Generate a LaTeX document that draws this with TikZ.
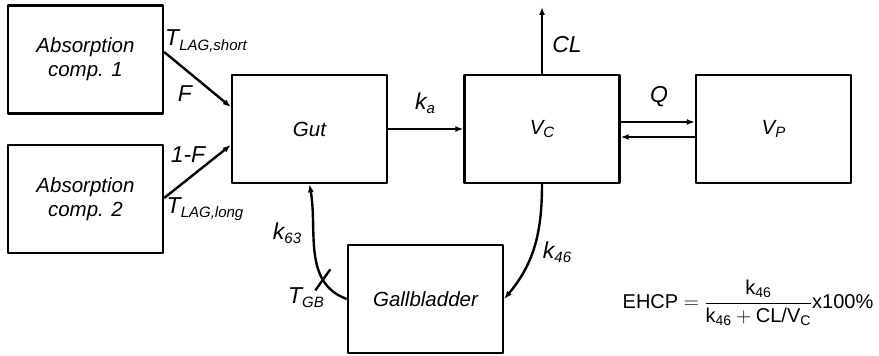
\documentclass[tikz,border=0pt]{standalone}
\usepackage{fontspec}
\setmainfont{Liberation Sans}
\usepackage{amsmath}
\usetikzlibrary{arrows.meta,calc}
\providecommand{\Ink}{000000}
\definecolor{ink}{HTML}{\Ink}
\newcommand{\Edge}{2.4pt}
\newcommand{\BoxW}{155pt}
\newcommand{\BoxH}{108pt}
\newcommand{\Lo}[1]{\raisebox{-0.35ex}{\fontsize{15}{15}\selectfont #1}}
\tikzset{
  comp/.style={draw=ink, line width=\Edge, minimum width=\BoxW, minimum height=\BoxH,
    inner sep=0pt, align=center, font=\fontsize{20.5}{24}\selectfont\itshape},
  flow/.style={draw=ink, line width=\Edge, -{Latex[length=8pt,width=6pt]}},
  lbl/.style={font=\fontsize{23}{23}\selectfont\itshape, inner sep=0pt},
}

\begin{document}
\begin{tikzpicture}[x=1pt,y=1pt, line join=round]
  \useasboundingbox (0,0) rectangle (879,356);

  % ---- compartments -------------------------------------------------------
  \node[comp] (abs1) at (85.5,296.5) {Absorption\\comp. 1};
  \node[comp] (abs2) at (85.5,157) {Absorption\\comp. 2};
  \node[comp] (gut) at (309.5,227) {Gut};
  \node[comp] (vc) at (542,227) {V\Lo{C}};
  \node[comp] (vp) at (773.5,227) {V\Lo{P}};
  \node[comp] (gb) at (425.5,57) {Gallbladder};

  % ---- absorption into the gut --------------------------------------------
  \draw[flow] ($(abs1.east)+(0,7.5)$) -- ($(gut.west)+(0,22)$);
  \draw[flow] ($(abs2.east)+(0,1)$) -- ($(gut.west)+(0,-16)$);
  \node[lbl] (tshort) at (206,315) {T\Lo{LAG,short}};
  \node[lbl] (frac1) at (185,262) {F};
  \node[lbl] (frac2) at (188,201) {1-F};
  \node[lbl] (tlong) at (205,147) {T\Lo{LAG,long}};

  % ---- central and peripheral ---------------------------------------------
  \draw[flow] (gut.east) -- (vc.west);
  \node[lbl] (ka) at (425,253) {k\Lo{a}};
  \coordinate (clout) at (542,349);
  \draw[flow] (vc.north) -- (clout);
  \node[lbl] (cl) at (567,311) {CL};
  \draw[flow] ($(vc.east)+(0,7)$) -- ($(vp.west)+(0,7)$);
  \draw[flow] ($(vp.west)+(0,-8)$) -- ($(vc.east)+(0,-8)$);
  \node[lbl] (q) at (659,259) {Q};

  % ---- enterohepatic loop -------------------------------------------------
  \draw[flow] (vc.south) to[out=-90,in=50] (gb.east);
  \node[lbl] (k46) at (557,104) {k\Lo{46}};
  \draw[flow] (gb.west) to[out=160,in=-80] coordinate[pos=0.26] (gbmark) (gut.south);
  \node[lbl] (k63) at (287,123) {k\Lo{63}};
  \draw[ink,line width=\Edge] ($(gbmark)+(-7.5,-10.5)$) -- ($(gbmark)+(7.5,10.5)$);
  \node[lbl] (tgb) at (306,58) {T\Lo{GB}};

  % ---- EHCP ---------------------------------------------------------------
  \node[font=\fontsize{20}{23}\selectfont, inner sep=0pt] (ehcp) at (748,53)
    {EHCP $=\dfrac{\text{k}_{\text{46}}}{\text{k}_{\text{46}}+\text{CL/V}_{\text{C}}}$x100\%};

\end{tikzpicture}
\end{document}
